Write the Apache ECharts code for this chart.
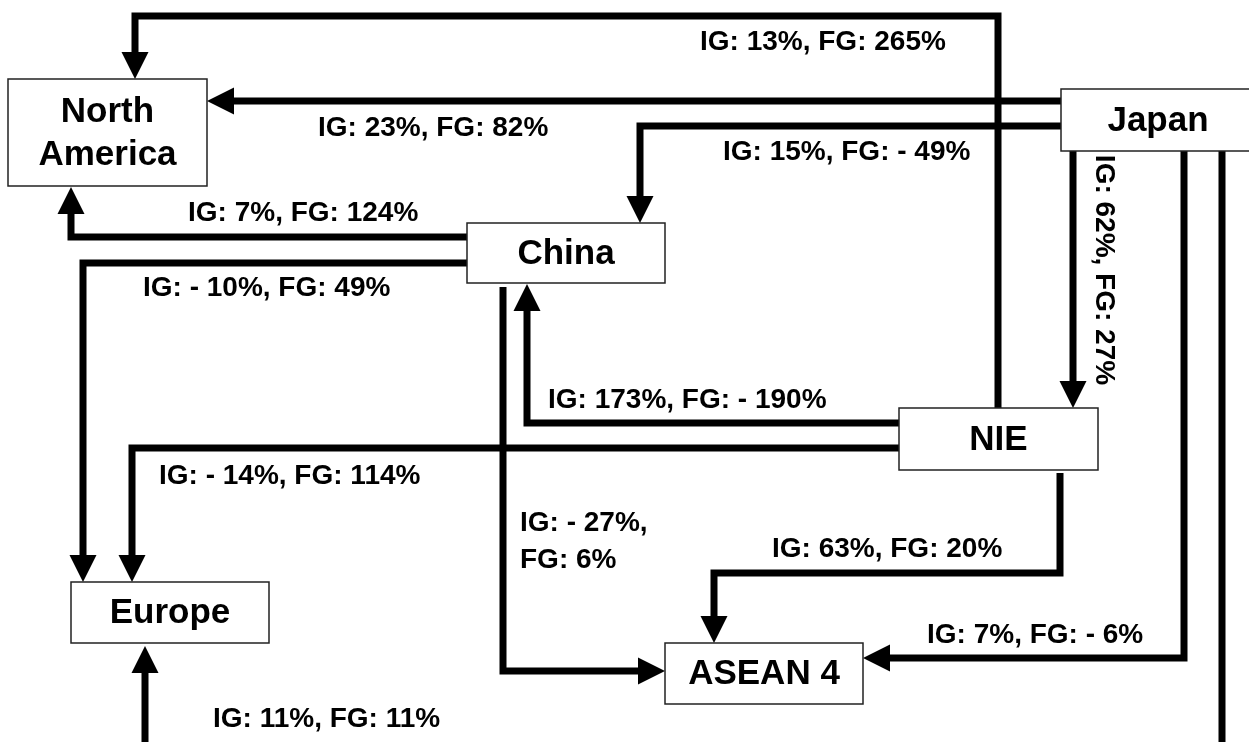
<!DOCTYPE html>
<html><head><meta charset="utf-8">
<script src="https://cdn.jsdelivr.net/npm/echarts@6/dist/echarts.min.js"></script>
<style>html,body{margin:0;padding:0;background:#fff}#c{width:1249px;height:742px}</style>
</head><body><div id="c"></div>
<script>
// ---- data ----
const regions = ['North America', 'Japan', 'China', 'NIE', 'Europe', 'ASEAN 4'];
const regionLabels = ['North\nAmerica', 'Japan', 'China', 'NIE', 'Europe', 'ASEAN 4'];
const flowFrom = ['NIE', 'Japan', 'Japan', 'Japan', 'China', 'China', 'NIE', 'NIE', 'China', 'NIE', 'Japan', 'Japan'];
const flowTo = ['North America', 'North America', 'China', 'NIE', 'North America', 'Europe', 'China', 'Europe', 'ASEAN 4', 'ASEAN 4', 'ASEAN 4', 'Europe'];
const igGrowth = [13, 23, 15, 62, 7, -10, 173, -14, -27, 63, 7, 11];
const fgGrowth = [265, 82, -49, 27, 124, 49, -190, 114, 6, 20, -6, 11];

// ---- layout (diagram units) ----
const boxLayout = {
  'North America': [8, 79, 207, 186],
  'Japan': [1061, 89, 1256, 151],
  'China': [467, 223, 665, 283],
  'NIE': [899, 408, 1098, 470],
  'Europe': [71, 582, 269, 643],
  'ASEAN 4': [665, 643, 863, 704]
};
const routeLayout = [
  [[998, 408], [998, 16], [135, 16], [135, 79]],
  [[1061, 101], [207, 101]],
  [[1061, 126], [640, 126], [640, 223]],
  [[1073, 151], [1073, 408]],
  [[467, 237], [71, 237], [71, 187]],
  [[467, 263], [83, 263], [83, 582]],
  [[899, 423], [527, 423], [527, 284]],
  [[899, 448], [132, 448], [132, 582]],
  [[503, 287], [503, 671], [665, 671]],
  [[1060, 473], [1060, 573], [714, 573], [714, 643]],
  [[1184, 151], [1184, 658], [863, 658]],
  [[1222, 151], [1222, 780], [145, 780], [145, 646]]
];
// [x, y, align, rotation, twoLines]
const labelLayout = [
  [700, 42, 'left', 0, false],
  [318, 128, 'left', 0, false],
  [723, 152, 'left', 0, false],
  [1104, 270, 'center', -Math.PI / 2, false],
  [188, 213, 'left', 0, false],
  [143, 288, 'left', 0, false],
  [548, 400, 'left', 0, false],
  [159, 476, 'left', 0, false],
  [520, 542, 'left', 0, true],
  [772, 549, 'left', 0, false],
  [927, 635, 'left', 0, false],
  [213, 719, 'left', 0, false]
];

const FONT = '"Liberation Sans", Arial, Helvetica, sans-serif';
function pct(v) { return (v < 0 ? '- ' + Math.abs(v) : String(v)) + '%'; }
function flowText(i) {
  const sep = labelLayout[i][4] ? ',\n' : ', ';
  return 'IG: ' + pct(igGrowth[i]) + sep + 'FG: ' + pct(fgGrowth[i]);
}

const chart = echarts.init(document.getElementById('c'), null, { renderer: 'canvas' });

const option = {
  backgroundColor: '#fff',
  animation: false,
  grid: { left: 0, right: 0, top: 0, bottom: 0 },
  xAxis: { type: 'value', min: 0, max: 1249, show: false },
  yAxis: { type: 'value', min: 0, max: 742, inverse: true, show: false },
  series: [
    {
      type: 'custom',
      name: 'flows',
      coordinateSystem: 'cartesian2d',
      silent: true,
      data: flowFrom.map((f, i) => [i]),
      renderItem: function (params, api) {
        const i = params.dataIndex;
        const pts = routeLayout[i].map(p => api.coord(p));
        const n = pts.length;
        const tip = pts[n - 1], prev = pts[n - 2];
        const dx = tip[0] - prev[0], dy = tip[1] - prev[1];
        const L = Math.hypot(dx, dy);
        const ux = dx / L, uy = dy / L;
        const head = 27, half = 13.5;
        const base = [tip[0] - ux * head, tip[1] - uy * head];
        const linePts = pts.slice(0, n - 1).concat([[base[0] + ux * 2, base[1] + uy * 2]]);
        return {
          type: 'group',
          children: [
            { type: 'polyline', shape: { points: linePts },
              style: { stroke: '#000', lineWidth: 7, fill: null, lineJoin: 'miter', lineCap: 'butt' } },
            { type: 'polygon',
              shape: { points: [tip, [base[0] - uy * half, base[1] + ux * half], [base[0] + uy * half, base[1] - ux * half]] },
              style: { fill: '#000' } }
          ]
        };
      },
      z: 2
    },
    {
      type: 'custom',
      name: 'regions',
      coordinateSystem: 'cartesian2d',
      silent: true,
      data: regions.map((r, i) => [i]),
      renderItem: function (params, api) {
        const r = regions[params.dataIndex];
        const b = boxLayout[r];
        const p0 = api.coord([b[0], b[1]]), p1 = api.coord([b[2], b[3]]);
        return {
          type: 'group',
          children: [
            { type: 'rect', shape: { x: p0[0], y: p0[1], width: p1[0] - p0[0], height: p1[1] - p0[1] },
              style: { fill: '#fff', stroke: '#222', lineWidth: 1.5 } },
            { type: 'text', x: (p0[0] + Math.min(p1[0], 1249)) / 2 + (r === 'Japan' ? 3 : 0), y: (p0[1] + p1[1]) / 2 + 1,
              style: { text: regionLabels[params.dataIndex], fill: '#000', font: 'bold 35px ' + FONT,
                       align: 'center', verticalAlign: 'middle', lineHeight: 43 } }
          ]
        };
      },
      z: 3
    },
    {
      type: 'custom',
      name: 'labels',
      coordinateSystem: 'cartesian2d',
      silent: true,
      data: igGrowth.map((v, i) => [i]),
      renderItem: function (params, api) {
        const i = params.dataIndex;
        const l = labelLayout[i];
        const p = api.coord([l[0], l[1]]);
        return {
          type: 'text', x: p[0], y: p[1], rotation: l[3],
          style: { text: flowText(i), fill: '#000', font: 'bold 28px ' + FONT,
                   align: l[2], verticalAlign: 'middle', lineHeight: 37 }
        };
      },
      z: 4
    }
  ]
};
chart.setOption(option);
</script>
</body></html>
